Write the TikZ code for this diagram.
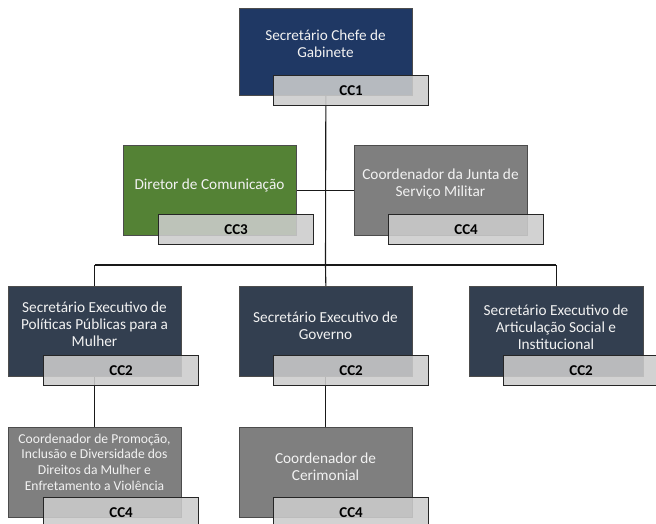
\documentclass[tikz,border=0pt]{standalone}
\usepackage{fontspec}
\setmainfont{Carlito}
\pgfdeclarelayer{bg}
\pgfsetlayers{bg,main}
\definecolor{cblue}{RGB}{31,56,100}
\definecolor{cgreen}{RGB}{84,130,53}
\definecolor{cgray}{RGB}{127,127,127}
\definecolor{cslate}{RGB}{51,63,80}
\definecolor{tagfill}{RGB}{204,204,204}
\definecolor{btext}{RGB}{242,242,242}
\tikzset{
  box/.style={draw=black!70, line width=0.7pt, minimum width=173pt, minimum height=90pt, inner sep=0pt, anchor=north west},
  btxt/.style={text=btext, font=\fontsize{15.3}{16.8}\selectfont, align=center, inner sep=0pt},
  tag/.style={draw=black!85, line width=1.2pt, fill=tagfill, fill opacity=0.88, text opacity=1, draw opacity=1,
    minimum width=155pt, minimum height=30pt, inner sep=0pt, anchor=north west, font=\fontsize{15}{16}\selectfont\bfseries},
  conn/.style={draw=black!90, line width=1.1pt}
}
\begin{document}
\begin{tikzpicture}[x=1pt,y=-1pt]
\useasboundingbox (0,0) rectangle (656,524);
% boxes
\node[box, fill=cblue, minimum height=87pt] (top) at (239,8) {};
\node[box, fill=cgreen] (dir) at (123,145) {};
\node[box, fill=cgray] (jun) at (354,145) {};
\node[box, fill=cslate] (sel) at (8,286) {};
\node[box, fill=cslate] (sgov) at (239,286) {};
\node[box, fill=cslate, minimum width=174pt] (sart) at (469,286) {};
\node[box, fill=cgray] (cpro) at (8,427) {};
\node[box, fill=cgray] (ccer) at (239,427) {};
% texts
\node[btxt, font=\fontsize{15.2}{17}\selectfont] (ttop) at (325.5,43.5) {Secretário Chefe de\\Gabinete};
\node[btxt] (tdir) at (209.5,185) {Diretor de Comunicação};
\node[btxt] (tjun) at (440.5,184) {Coordenador da Junta de\\Serviço Militar};
\node[btxt] (tsel) at (94.5,324) {Secretário Executivo de\\Políticas Públicas para a\\Mulher};
\node[btxt] (tsgov) at (325.5,325.5) {Secretário Executivo de\\Governo};
\node[btxt] (tsart) at (556,327) {Secretário Executivo de\\Articulação Social e\\Institucional};
\node[btxt, font=\fontsize{13.6}{15.6}\selectfont] (tcpro) at (94.5,462) {Coordenador de Promoção,\\Inclusão e Diversidade dos\\Direitos da Mulher e\\Enfretamento a Violência};
\node[btxt] (tccer) at (325.5,467) {Coordenador de\\Cerimonial};
% tags
\node[tag] (ktop) at (273,75) {CC1};
\node[tag] (kdir) at (158,214) {CC3};
\node[tag] (kjun) at (388,214) {CC4};
\node[tag] (ksel) at (43,355) {CC2};
\node[tag] (ksgov) at (273,355) {CC2};
\node[tag] (ksart) at (503,355) {CC2};
\node[tag] (kcpro) at (43,497) {CC4};
\node[tag] (kccer) at (273,497) {CC4};
% connectors
\coordinate (bar) at (325.5,265);
\begin{pgfonlayer}{bg}
\draw[conn] (top.south) -- (bar);
\draw[conn] (sel.north |- bar) -- (sart.north |- bar);
\draw[conn] (sel.north |- bar) -- (sel.north);
\draw[conn] (bar) -- (sgov.north);
\draw[conn] (sart.north |- bar) -- (sart.north);
\draw[conn] (dir.east) -- (jun.west);
\draw[conn] (sel.south) -- (cpro.north);
\draw[conn] (sgov.south) -- (ccer.north);
\end{pgfonlayer}
\end{tikzpicture}
\end{document}
